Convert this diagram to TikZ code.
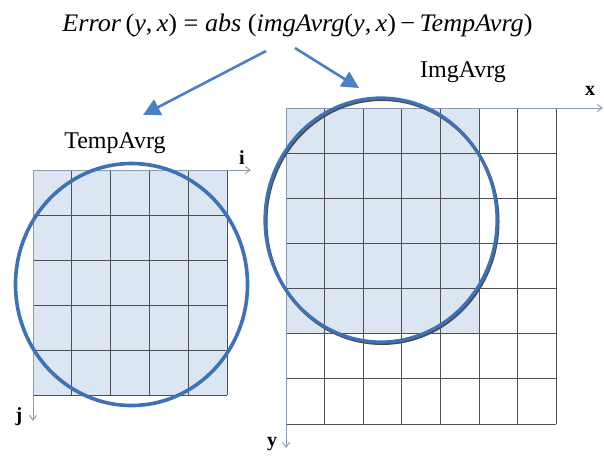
\documentclass[tikz,border=0pt]{standalone}
\usepackage{fontspec}
\usepackage{graphicx}
\setmainfont{Liberation Serif}
\usetikzlibrary{arrows.meta}
\definecolor{ablue}{HTML}{4A80C4}
\definecolor{eblue}{HTML}{3D72B6}
\definecolor{cellfill}{HTML}{DCE6F2}
\definecolor{gridcol}{HTML}{4A5058}
\definecolor{axiscol}{HTML}{8A9AAA}
\tikzset{
  gridline/.style={draw=gridcol, line width=1pt},
  bluearrow/.style={draw=ablue, line width=2.6pt, -{Triangle[length=17pt,width=17pt]}},
  ring/.style={draw=eblue, line width=3.6pt},
  axisline/.style={draw=axiscol, line width=0.9pt, -{Straight Barb[length=5pt,width=7pt]}},
  axislabel/.style={font=\bfseries\fontsize{20}{20}\selectfont, inner sep=0pt},
  title/.style={font=\fontsize{24}{24}\selectfont, inner sep=0pt}
}
\begin{document}
\begin{tikzpicture}[x=1pt,y=-1pt]
\useasboundingbox (0,0) rectangle (604,467);
\fill[white] (0,0) rectangle (604,467);
% formula
\node[inner sep=0pt, anchor=base] (formula) at (297.5,31) {\resizebox{470pt}{17.5pt}{\fontsize{24}{24}\selectfont\textit{Error}\,(\textit{y},\,\textit{x}) = \textit{abs} (\textit{imgAvrg}(\textit{y},\,\textit{x})\,−\,\textit{TempAvrg})}};
% labels
\node[title] (temp) at (115,143) {TempAvrg};
\node[title] (img) at (463,72) {ImgAvrg};
% left grid
\fill[cellfill] (33,170) rectangle (227,395);
\foreach \x in {33,71.8,110.6,149.4,188.2,227} \draw[gridline] (\x,170) -- (\x,395);
\foreach \y in {170,215,260,305,350,395} \draw[gridline] (33,\y) -- (227,\y);
\coordinate (o1) at (33,170);
\coordinate (iend) at (251,170);
\coordinate (jend) at (33,421);
\draw[axisline] (o1) -- (iend);
\draw[axisline] (o1) -- (jend);
\node[axislabel] (ilab) at (242,158) {i};
\node[axislabel] (jlab) at (19,417) {j};
% right grid
\fill[cellfill] (286,108) rectangle (479.2,333.7);
\foreach \x in {286,324.6,363.2,401.8,440.4,479,517.6,556.2} \draw[gridline] (\x,108) -- (\x,424);
\foreach \y in {108,153.1,198.3,243.4,288.6,333.7,378.9,424} \draw[gridline] (286,\y) -- (556.2,\y);
\coordinate (o2) at (286,108);
\coordinate (xend) at (603,108);
\coordinate (yend) at (286,448);
\draw[axisline] (o2) -- (xend);
\draw[axisline] (o2) -- (yend);
\node[axislabel] (xlab) at (590,91) {x};
\node[axislabel] (ylab) at (272,444) {y};
% ellipses
\draw[ring] (131.5,284.5) ellipse [x radius=116, y radius=121];
\draw[black!70, line width=3pt] (382,221.5) ellipse [x radius=116, y radius=122];
\draw[ring, line width=3.2pt] (381,220) ellipse [x radius=116, y radius=122];
% arrows
\coordinate (a1s) at (266,51);
\coordinate (a1e) at (143,115);
\coordinate (a2s) at (295,48);
\coordinate (a2e) at (359,88);
\draw[bluearrow] (a1s) -- (a1e);
\draw[bluearrow] (a2s) -- (a2e);
\end{tikzpicture}
\end{document}
